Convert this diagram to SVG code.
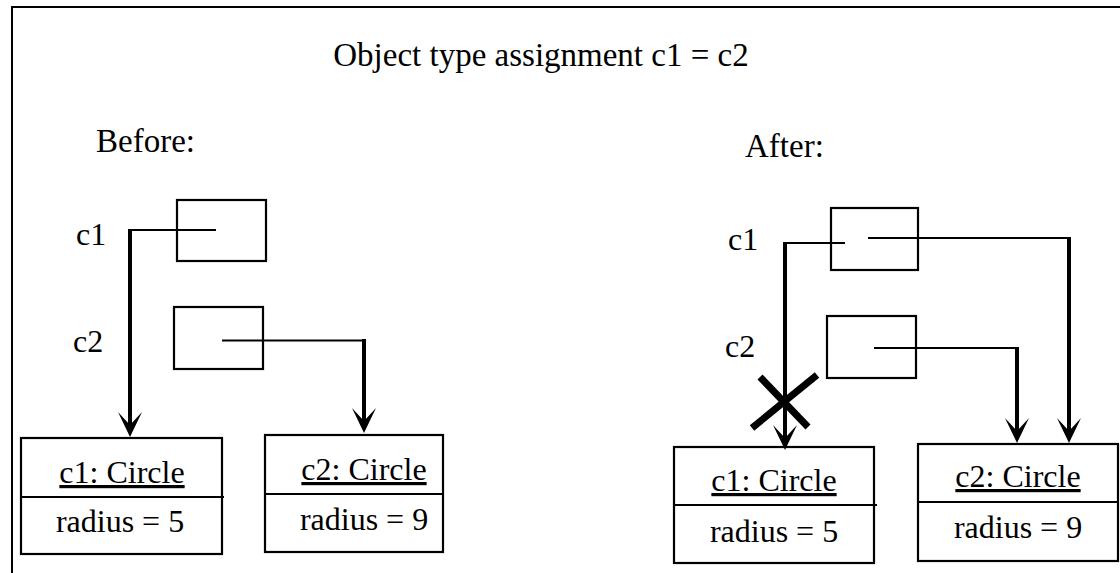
<svg xmlns="http://www.w3.org/2000/svg" width="1120" height="573" viewBox="0 0 1120 573" font-family="'Liberation Serif', Tinos, 'Times New Roman', 'DejaVu Serif', serif">
  <style>
    text { font-family: 'Liberation Serif', Tinos, 'Times New Roman', 'DejaVu Serif', serif; font-size: 32px; fill: #000; }
    .title { font-size: 33px; }
    .mid { text-anchor: middle; }
    .ul { text-decoration: underline; }
    .box { fill: #fff; stroke: #000; stroke-width: 2.2; }
    .thin { fill: none; stroke: #000; stroke-width: 2.2; }
    .thick { fill: none; stroke: #000; stroke-width: 4; marker-end: url(#arrow); }
    .cross { stroke: #000; stroke-width: 7; }
  </style>
  <defs>
    <marker id="arrow" markerUnits="userSpaceOnUse" viewBox="-26 -13 27 26" markerWidth="27" markerHeight="26" refX="-12" refY="0" orient="auto">
      <path d="M0,0 L-25,-12 L-12,0 L-25,12 Z" fill="#000"/>
    </marker>
  </defs>
  <rect x="0" y="0" width="1120" height="573" fill="#fff"/>
  <rect id="frame" x="12" y="7" width="1130" height="600" fill="none" stroke="#000" stroke-width="2"/>

  <text class="title mid" x="541" y="66">Object type assignment c1 = c2</text>
  <text class="title" x="96" y="152">Before:</text>
  <text class="title" x="745" y="157">After:</text>

  <!-- Before panel -->
  <g id="before-c1-var">
    <text x="76" y="245">c1</text>
    <rect class="box" x="177" y="200" width="89" height="61"/>
  </g>
  <g id="before-c2-var">
    <text x="73" y="352">c2</text>
    <rect class="box" x="174" y="307" width="89" height="62"/>
  </g>
  <g id="before-c1-obj">
    <rect class="box" x="21" y="438" width="201" height="116"/>
    <line class="thin" x1="21" y1="497" x2="224" y2="497"/>
    <text class="mid ul" x="122" y="483">c1: Circle</text>
    <text class="mid" x="120" y="532">radius = 5</text>
  </g>
  <g id="before-c2-obj">
    <rect class="box" x="265" y="435" width="178" height="117"/>
    <line class="thin" x1="265" y1="494" x2="443" y2="494"/>
    <text class="mid ul" x="364" y="480">c2: Circle</text>
    <text class="mid" x="364" y="530">radius = 9</text>
  </g>

  <!-- After panel -->
  <g id="after-c1-var">
    <text x="728" y="250">c1</text>
    <rect class="box" x="831" y="208" width="87" height="62"/>
  </g>
  <g id="after-c2-var">
    <text x="725" y="357">c2</text>
    <rect class="box" x="827" y="316" width="89" height="62"/>
  </g>
  <g id="after-c1-obj">
    <rect class="box" x="674" y="447" width="200" height="116"/>
    <line class="thin" x1="674" y1="505" x2="877" y2="505"/>
    <text class="mid ul" x="774" y="491">c1: Circle</text>
    <text class="mid" x="774" y="542">radius = 5</text>
  </g>
  <g id="after-c2-obj">
    <rect class="box" x="918" y="444" width="200" height="117"/>
    <line class="thin" x1="918" y1="502" x2="1118" y2="502"/>
    <text class="mid ul" x="1018" y="487">c2: Circle</text>
    <text class="mid" x="1018" y="538">radius = 9</text>
  </g>

  <g id="connectors">
    <!-- Before c1 -->
    <path class="thin" d="M216,230 H128"/>
    <line class="thick" x1="130" y1="229" x2="130" y2="425"/>
    <!-- Before c2 -->
    <path class="thin" d="M222,340.5 H366"/>
    <line class="thick" x1="364" y1="339" x2="364" y2="421"/>
    <!-- After c1 old reference -->
    <path class="thin" d="M845,243 H783"/>
    <line class="thick" x1="785" y1="242" x2="785" y2="438"/>
    <!-- After c1 new reference -->
    <path class="thin" d="M868,238 H1071"/>
    <line class="thick" x1="1069" y1="237" x2="1069" y2="431"/>
    <!-- After c2 -->
    <path class="thin" d="M874,348 H1019"/>
    <line class="thick" x1="1017" y1="347" x2="1017" y2="431"/>
    <!-- Cross-out -->
    <line class="cross" x1="760" y1="377" x2="808" y2="427"/>
    <line class="cross" x1="817" y1="375" x2="752" y2="428"/>
  </g>
</svg>
